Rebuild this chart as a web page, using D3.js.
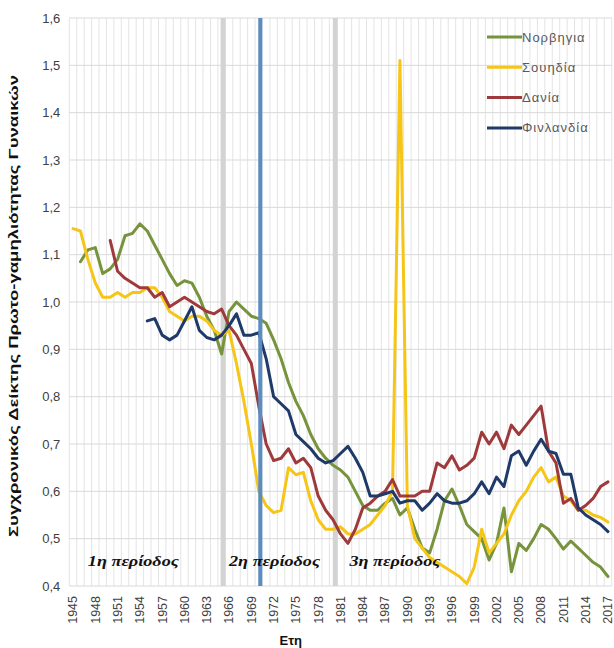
<!DOCTYPE html>
<meta charset="utf-8">
<head>
  <title>Nordic first marriage index</title>
</head>
<style>
  body { margin: 0; background: #fff; }
  .tick-y { font: 13px "Liberation Sans", Arial, sans-serif; fill: #404040; }
  .tick-x { font: 12.5px "Liberation Sans", Arial, sans-serif; fill: #404040; }
  .legend-text { font: 13px "Liberation Sans", Arial, sans-serif; fill: #595959; letter-spacing: 1px; }
  .period { font: bold italic 15px "Liberation Serif", "Times New Roman", serif; fill: #111; }
  .axis-title { font: bold 13px "Liberation Sans", Arial, sans-serif; fill: #111; }
</style>

<script src="https://d3js.org/d3.v7.min.js"></script>

<div id="my_dataviz"></div>

<script>
  // years on the category axis
  var years = d3.range(1945, 2018);

  // values per year, 1945..2017 (null = no data)
  var norway = [null, 1.085, 1.11, 1.115, 1.06, 1.07, 1.09, 1.14, 1.145, 1.165,
    1.15, 1.12, 1.09, 1.06, 1.035, 1.045, 1.04, 1.01, 0.97, 0.94,
    0.89, 0.98, 1.0, 0.985, 0.97, 0.965, 0.955, 0.92, 0.88, 0.83,
    0.79, 0.76, 0.72, 0.69, 0.67, 0.655, 0.645, 0.63, 0.60, 0.57,
    0.56, 0.56, 0.575, 0.585, 0.55, 0.565, 0.52, 0.48, 0.47, 0.52,
    0.58, 0.605, 0.57, 0.53, 0.515, 0.50, 0.455, 0.49, 0.565, 0.43,
    0.49, 0.475, 0.50, 0.53, 0.52, 0.50, 0.478, 0.495, 0.48, 0.465,
    0.45, 0.44, 0.42];

  var sweden = [1.155, 1.15, 1.09, 1.04, 1.01, 1.01, 1.02, 1.01, 1.02, 1.02,
    1.03, 1.03, 1.01, 0.98, 0.97, 0.96, 0.97, 0.97, 0.96, 0.94,
    0.93, 0.94, 0.87, 0.79, 0.70, 0.60, 0.57, 0.555, 0.56, 0.65,
    0.635, 0.64, 0.58, 0.54, 0.52, 0.52, 0.525, 0.51, 0.51, 0.52,
    0.53, 0.55, 0.57, 0.60, 1.51, 0.57, 0.50, 0.48, 0.46, 0.45,
    0.44, 0.43, 0.42, 0.405, 0.44, 0.52, 0.47, 0.49, 0.51, 0.55,
    0.58, 0.60, 0.63, 0.65, 0.62, 0.63, 0.59, 0.58, 0.56, 0.56,
    0.55, 0.545, 0.535];

  var denmark = [null, null, null, null, null, 1.13, 1.065, 1.05, 1.04, 1.03,
    1.03, 1.01, 1.02, 0.99, 1.0, 1.01, 1.0, 0.99, 0.98, 0.975,
    0.985, 0.95, 0.93, 0.90, 0.87, 0.78, 0.70, 0.665, 0.67, 0.69,
    0.66, 0.67, 0.65, 0.59, 0.56, 0.54, 0.51, 0.49, 0.52, 0.565,
    0.575, 0.59, 0.60, 0.625, 0.59, 0.59, 0.59, 0.60, 0.60, 0.66,
    0.65, 0.675, 0.645, 0.655, 0.67, 0.725, 0.70, 0.725, 0.69, 0.74,
    0.72, 0.74, 0.76, 0.78, 0.685, 0.66, 0.575, 0.585, 0.56, 0.57,
    0.585, 0.61, 0.62];

  var finland = [null, null, null, null, null, null, null, null, null, null,
    0.96, 0.965, 0.93, 0.92, 0.93, 0.96, 0.99, 0.94, 0.925, 0.92,
    0.93, 0.95, 0.975, 0.93, 0.93, 0.935, 0.88, 0.80, 0.785, 0.77,
    0.72, 0.705, 0.69, 0.67, 0.66, 0.665, 0.68, 0.695, 0.67, 0.64,
    0.59, 0.59, 0.595, 0.60, 0.575, 0.58, 0.58, 0.56, 0.575, 0.595,
    0.58, 0.575, 0.575, 0.58, 0.595, 0.62, 0.595, 0.63, 0.61, 0.675,
    0.685, 0.655, 0.685, 0.71, 0.685, 0.68, 0.636, 0.636, 0.565, 0.55,
    0.54, 0.53, 0.515];

  var seriesNames = ["Νορβηγια", "Σουηδία", "Δανία", "Φινλανδία"];
  var seriesValues = [norway, sweden, denmark, finland];
  var seriesColors = ["#77933c", "#f5c518", "#9e3a3c", "#1f3a68"];

  var yTicks = [0.4, 0.5, 0.6, 0.7, 0.8, 0.9, 1.0, 1.1, 1.2, 1.3, 1.4, 1.5, 1.6];
  var xTickYears = years.filter(function(y) { return (y - 1945) % 3 === 0; });

  // period separators (years) and the period labels
  var dividers = [1965.2, 1980.3];
  var markerYear = 1970.2;
  var periodLabels = ["1η περίοδος", "2η περίοδος", "3η περίοδος"];
  var periodYears = [1947, 1966, 1982.2];

  var W = 614, H = 648;
  var margin = { top: 18, right: 2.3, bottom: 62, left: 69.3 };
  var width = W - margin.left - margin.right,
    height = H - margin.top - margin.bottom;

  var svg = d3.select("#my_dataviz")
    .append("svg")
    .attr("width", W)
    .attr("height", H)
    .append("g")
    .attr("transform", "translate(" + margin.left + "," + margin.top + ")");

  // category scale like a spreadsheet chart: points sit in the middle of each band
  var x = d3.scaleBand()
    .domain(years)
    .range([0, width])
    .padding(0);
  var bw = x.bandwidth();
  // continuous year scale through band centres, for markers between years
  var xYear = d3.scaleLinear()
    .domain([1945, 2017])
    .range([x(1945) + bw / 2, x(2017) + bw / 2]);

  var y = d3.scaleLinear()
    .domain([0.4, 1.6])
    .range([height, 0]);

  // vertical gridlines at band edges
  svg.append("g")
    .selectAll("line")
    .data(years.concat([2018]))
    .enter()
    .append("line")
    .attr("x1", function(d) { return d === 2018 ? width : x(d); })
    .attr("x2", function(d) { return d === 2018 ? width : x(d); })
    .attr("y1", 0)
    .attr("y2", height)
    .style("stroke", "#e4e4e4")
    .style("stroke-width", 1);

  // horizontal gridlines
  svg.append("g")
    .selectAll("line")
    .data(yTicks)
    .enter()
    .append("line")
    .attr("x1", 0)
    .attr("x2", width)
    .attr("y1", function(d) { return y(d); })
    .attr("y2", function(d) { return y(d); })
    .style("stroke", "#d9d9d9")
    .style("stroke-width", 1);

  // Y axis (labels only)
  var yAxis = svg.append("g")
    .call(d3.axisLeft(y).tickValues(yTicks).tickSize(0).tickPadding(9)
      .tickFormat(function(d) { return d3.format(".1f")(d).replace(".", ","); }));
  yAxis.select(".domain").remove();
  yAxis.selectAll("text").attr("class", "tick-y").attr("fill", null).style("font", null);

  // X axis: rotated labels every 3 years
  var xAxis = svg.append("g")
    .attr("transform", "translate(0," + height + ")")
    .call(d3.axisBottom(x).tickValues(xTickYears).tickSize(0).tickPadding(0));
  xAxis.select(".domain").remove();
  xAxis.selectAll("text")
    .attr("class", "tick-x")
    .attr("fill", null)
    .style("font", null)
    .attr("transform", "rotate(-90)")
    .attr("x", -10)
    .attr("y", 0)
    .attr("dy", "0.35em")
    .style("text-anchor", "end");

  // gray period dividers
  svg.append("g")
    .selectAll("line")
    .data(dividers)
    .enter()
    .append("line")
    .attr("x1", function(d) { return xYear(d); })
    .attr("x2", function(d) { return xYear(d); })
    .attr("y1", 0)
    .attr("y2", height)
    .style("stroke", "#d3d3d3")
    .style("stroke-width", 5);

  // the series lines
  var line = d3.line()
    .defined(function(d) { return d.v !== null; })
    .x(function(d) { return x(d.year) + bw / 2; })
    .y(function(d) { return y(d.v); });

  seriesValues.forEach(function(vals, i) {
    var pts = years.map(function(yr, j) { return { year: yr, v: vals[j] }; });
    svg.append("path")
      .datum(pts)
      .attr("d", line)
      .style("fill", "none")
      .style("stroke", seriesColors[i])
      .style("stroke-width", 3)
      .style("stroke-linejoin", "round")
      .style("stroke-linecap", "round");
  });

  // blue marker line
  svg.append("line")
    .attr("x1", xYear(markerYear))
    .attr("x2", xYear(markerYear))
    .attr("y1", 0)
    .attr("y2", height)
    .style("stroke", "#5b8cc2")
    .style("stroke-width", 4);

  // period labels
  svg.append("g")
    .selectAll("text")
    .data(periodLabels)
    .enter()
    .append("text")
    .attr("class", "period")
    .attr("x", function(d, i) { return xYear(periodYears[i]); })
    .attr("y", y(0.443))
    .attr("textLength", 91)
    .attr("lengthAdjust", "spacingAndGlyphs")
    .text(function(d) { return d; });

  // legend
  var legend = svg.append("g")
    .attr("transform", "translate(" + (487 - margin.left) + "," + (37 - margin.top) + ")");
  seriesNames.forEach(function(name, i) {
    legend.append("line")
      .attr("x1", 0)
      .attr("x2", 35)
      .attr("y1", i * 30.3)
      .attr("y2", i * 30.3)
      .style("stroke", seriesColors[i])
      .style("stroke-width", 3);
    legend.append("text")
      .attr("class", "legend-text")
      .attr("x", 35)
      .attr("y", i * 30.3)
      .attr("dy", "0.35em")
      .text(name);
  });

  // text label for the y axis
  svg.append("text")
    .attr("class", "axis-title")
    .attr("transform", "rotate(-90)")
    .attr("x", -(y(1.0) + 4))
    .attr("y", 13 - margin.left)
    .attr("dy", "0.35em")
    .attr("textLength", 462)
    .attr("lengthAdjust", "spacingAndGlyphs")
    .style("text-anchor", "middle")
    .text("Συγχρονικός Δείκτης Πρωτο-γαμηλιότητας Γυναικών");

  // text label for the x axis
  svg.append("text")
    .attr("class", "axis-title")
    .attr("x", xYear(1974.3))
    .attr("y", H - margin.top - 3)
    .style("text-anchor", "middle")
    .text("Ετη");
</script>
